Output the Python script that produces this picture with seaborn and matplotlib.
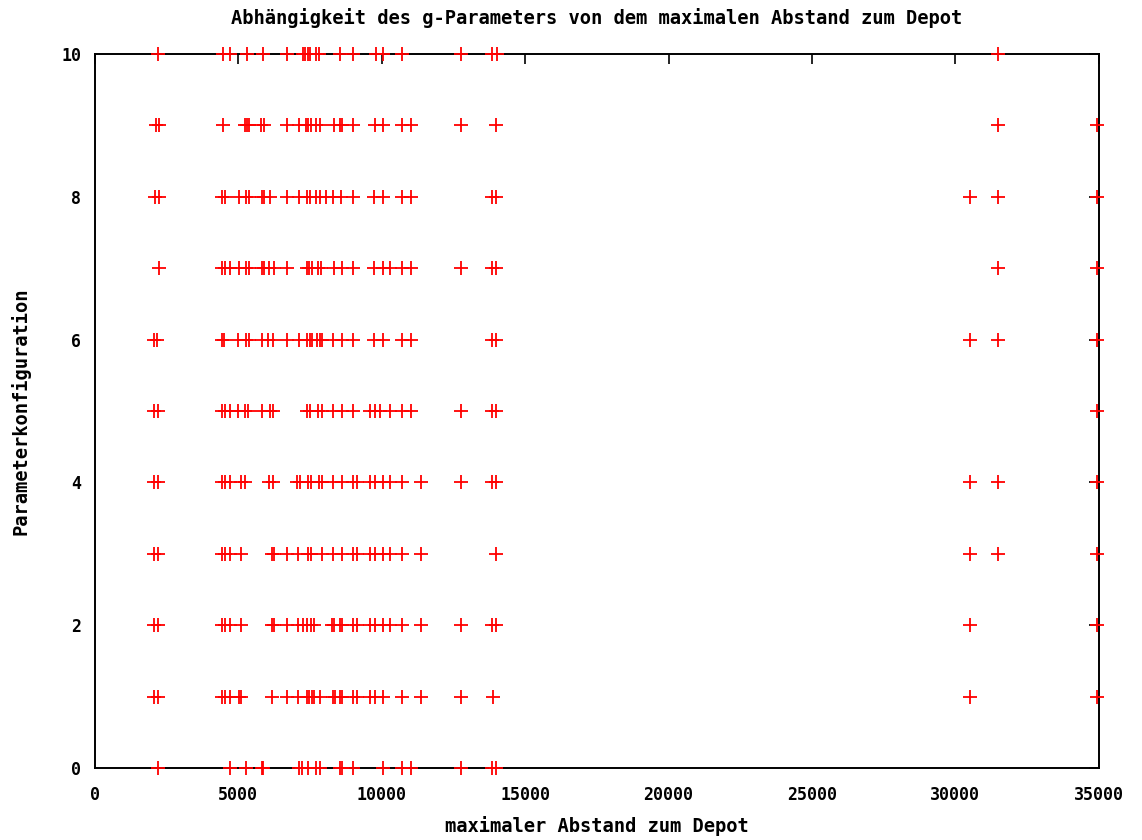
import pandas as pd
import matplotlib
matplotlib.use("Agg")
import matplotlib.pyplot as plt
import seaborn as sns

# maximaler Abstand je Parameterkonfiguration
abstand_0 = [2211, 4711, 5269, 5830, 5870, 7128, 7210, 7442, 7699, 7849, 8550, 8600,
             8989, 10035, 10720, 11022, 12766, 13858, 13975]
abstand_1 = [2072, 2189, 4420, 4537, 4711, 5025, 5083, 6164, 6687, 7094, 7384, 7477, 7559,
             7640, 7849, 8291, 8361, 8547, 8617, 9011, 9128, 9593, 9767, 10035, 10720, 11371,
             12766, 13893, 30500, 34950]
abstand_2 = [2072, 2189, 4420, 4537, 4711, 5083, 6176, 6245, 6687, 7094, 7268, 7407, 7524,
             7640, 8279, 8349, 8547, 8617, 9011, 9128, 9593, 9767, 10035, 10290, 10720, 11371,
             12766, 13858, 13987, 30500, 34950]
abstand_3 = [2061, 2212, 4420, 4537, 4711, 5083, 6176, 6245, 6687, 7094, 7442, 7535, 7907,
             8314, 8605, 9011, 9128, 9593, 9767, 10035, 10290, 10720, 11371, 13987,
             30500, 31500, 34950]
abstand_4 = [2072, 2189, 4420, 4537, 4711, 5083, 5234, 6083, 6199, 7036, 7152, 7442, 7535,
             7826, 7907, 8314, 8605, 9011, 9128, 9593, 9767, 10035, 10290, 10720, 11371,
             12766, 13858, 13987, 30500, 31500, 34950]
abstand_5 = [2072, 2212, 4420, 4537, 4711, 5001, 5234, 5350, 5815, 6106, 6222, 7384, 7501,
             7768, 7907, 8314, 8605, 9011, 9593, 9767, 9941, 10290, 10720, 11011, 12766,
             13858, 13987, 34950]
abstand_6 = [2072, 2177, 4420, 4513, 5001, 5269, 5362, 5815, 6048, 6222, 6687, 7128, 7407,
             7501, 7582, 7733, 7849, 7930, 8314, 8605, 9011, 9743, 10035, 10697, 11011,
             13858, 13987, 30500, 31500, 34950]
abstand_7 = [2235, 4420, 4537, 4711, 5037, 5269, 5362, 5815, 5896, 6083, 6245, 6687, 7384,
             7477, 7570, 7791, 7884, 8349, 8605, 9011, 9743, 10035, 10290, 10697, 11011,
             12766, 13858, 13987, 31500, 34950]
abstand_8 = [2096, 2235, 4420, 4537, 5025, 5269, 5362, 5815, 5896, 6106, 6687, 7128, 7384,
             7501, 7698, 7849, 8058, 8314, 8582, 9011, 9743, 10035, 10697, 11011, 13858,
             13987, 30500, 31500, 34950]
abstand_9 = [2130, 2247, 4455, 5234, 5315, 5385, 5780, 5896, 6687, 7128, 7361, 7442, 7524,
             7698, 7849, 8349, 8547, 8628, 9011, 9767, 10058, 10720, 11011, 12766, 13987,
             31500, 34950]
abstand_10 = [2200, 4455, 4711, 5292, 5850, 6687, 7268, 7330, 7420, 7500, 7698, 7826, 8547,
              8988, 9802, 10058, 10720, 12766, 13858, 14010, 31500]

zeilen = [abstand_0, abstand_1, abstand_2, abstand_3, abstand_4, abstand_5,
          abstand_6, abstand_7, abstand_8, abstand_9, abstand_10]

x_ticks = [0, 5000, 10000, 15000, 20000, 25000, 30000, 35000]
y_ticks = [0, 2, 4, 6, 8, 10]

rows = []
for konf, werte in enumerate(zeilen):
    for w in werte:
        rows.append({"abstand": w, "konfiguration": konf})
df = pd.DataFrame(rows)

sns.set_style("white")
plt.rcParams["font.family"] = ["DejaVu Sans Mono", "DejaVu Sans"]
plt.rcParams["text.color"] = "black"
plt.rcParams["axes.labelcolor"] = "black"

fig = plt.figure(figsize=(11.42, 8.4), dpi=100)
ax = fig.add_axes([0.0831, 0.0857, 0.879, 0.85])

sns.scatterplot(data=df, x="abstand", y="konfiguration", ax=ax, marker="+",
                color="#ff0000", s=90, linewidth=1.3, legend=False,
                clip_on=False, zorder=5)

ax.set_xlim(0, 35000)
ax.set_ylim(0, 10)
ax.set_xticks(x_ticks)
ax.set_yticks(y_ticks)
ax.tick_params(direction="in", length=7, width=1.2, top=True, right=True,
               labelsize=12, colors="black")
ax.tick_params(axis="x", pad=13)
ax.tick_params(axis="y", pad=10)
for lbl in ax.get_xticklabels() + ax.get_yticklabels():
    lbl.set_fontweight("bold")
for sp in ax.spines.values():
    sp.set_linewidth(1.4)
    sp.set_color("black")

ax.set_title("Abhängigkeit des g-Parameters von dem maximalen Abstand zum Depot",
             fontsize=13.5, fontweight="bold", y=1.0504, va="center", pad=0)
ax.set_xlabel("maximaler Abstand zum Depot", fontsize=13.5, fontweight="bold",
              va="center", color="black")
ax.set_ylabel("Parameterkonfiguration", fontsize=13.5, fontweight="bold",
              va="center", color="black")
ax.xaxis.set_label_coords(0.5, -0.0812)
ax.yaxis.set_label_coords(-0.0746, 0.5)

fig.savefig("out.png", dpi=100, facecolor="white")
